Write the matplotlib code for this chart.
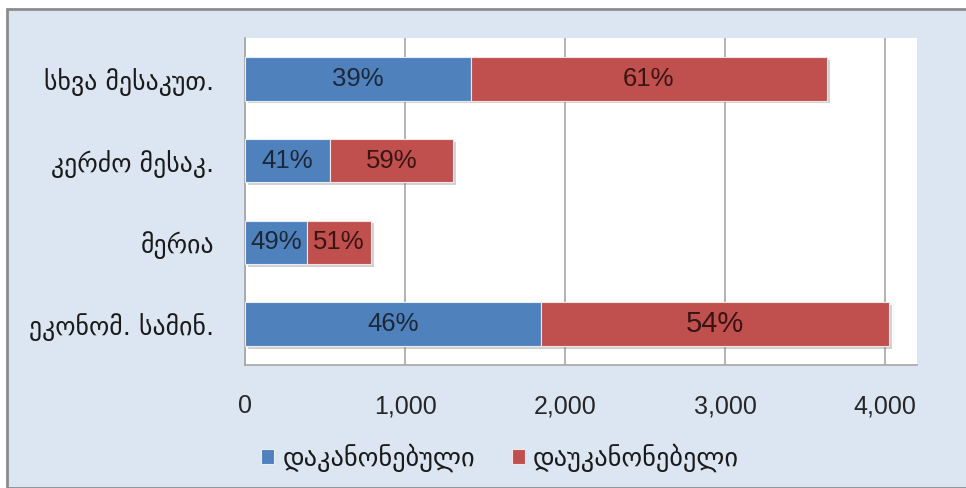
#!/usr/bin/env python3
import matplotlib
matplotlib.use('Agg')
import matplotlib.pyplot as plt
import matplotlib.patheffects as pe
from matplotlib.patches import Rectangle
from matplotlib.ticker import FuncFormatter

# data (bottom to top)
categories = ['ეკონომ. სამინ.', 'მერია', 'კერძო მესაკ.', 'სხვა მესაკუთ.']
legalized = [1850, 385, 530, 1410]
not_legalized = [2175, 405, 770, 2230]
series_names = ['დაკანონებული', 'დაუკანონებელი']
x_ticks = [0, 1000, 2000, 3000, 4000]

blue = '#4f81bd'
red = '#c0504d'
bg = '#dce6f2'
num_font = ['Liberation Sans', 'DejaVu Sans']
geo_font = ['DejaVu Sans']

plt.rcParams['font.family'] = num_font

fig = plt.figure(figsize=(9.66, 4.88), dpi=100)
fig.patch.set_facecolor('white')
# chart frame
fig.patches.append(Rectangle((7 / 966, 0), 1.0, 1 - 9 / 488, transform=fig.transFigure,
                             facecolor=bg, edgecolor='#8c8c8c', linewidth=2.0, zorder=-5))

ax = fig.add_axes([245 / 966, 1 - 365 / 488, 672 / 966, 327 / 488])
ax.set_zorder(2)
ax.set_facecolor('white')

shadow = [pe.SimplePatchShadow(offset=(2, -2), shadow_rgbFace='#7f7f7f', alpha=0.35), pe.Normal()]
y = range(len(categories))
b1 = ax.barh(y, legalized, height=0.53, color=blue, edgecolor='#e8eef6', linewidth=0.8,
             label=series_names[0], zorder=3)
b2 = ax.barh(y, not_legalized, left=legalized, height=0.53, color=red, edgecolor='#f4e4e4',
             linewidth=0.8, label=series_names[1], zorder=3)
for bar in list(b1) + list(b2):
    bar.set_path_effects(shadow)

for i in y:
    tot = legalized[i] + not_legalized[i]
    p1 = round(100 * legalized[i] / tot)
    p2 = 100 - p1
    ax.text(legalized[i] / 2, i, f'{p1}%', ha='center', va='center', fontsize=18.5,
            color='#1c2838', zorder=5)
    ax.text(legalized[i] + not_legalized[i] / 2, i, f'{p2}%', ha='center', va='center',
            fontsize=21 if i == 0 else 18.5, color='#3a1414', zorder=5)

ax.set_xlim(0, 4200)
ax.set_ylim(-0.5, len(categories) - 0.5)
ax.set_xticks(x_ticks)
ax.xaxis.set_major_formatter(FuncFormatter(lambda v, p: f'{int(v):,}'))
ax.set_yticks(list(y))
ax.set_yticklabels(categories, fontsize=18.5, color='#1a1a1a', family=geo_font)
ax.tick_params(axis='x', labelsize=18, labelcolor='#262626', length=0, pad=21)
ax.tick_params(axis='y', length=0, pad=22)
ax.grid(axis='x', color='#a6a6a6', linewidth=1.2, zorder=0)
ax.set_axisbelow(True)
for s in ['top', 'right']:
    ax.spines[s].set_visible(False)
ax.spines['left'].set_color('#a6a6a6')
ax.spines['bottom'].set_color('#a6a6a6')
ax.spines['left'].set_linewidth(1.2)
ax.spines['bottom'].set_linewidth(1.2)

leg = fig.legend(handles=[b1, b2], labels=series_names, loc='center',
                 bbox_to_anchor=(500 / 966, 1 - 458 / 488), ncol=2, frameon=False,
                 prop={'family': geo_font, 'size': 19}, handlelength=0.5,
                 handleheight=0.5, handletextpad=0.3, columnspacing=1.4)
for h in leg.legend_handles:
    h.set_path_effects([])
for t in leg.get_texts():
    t.set_color('#1a1a1a')

fig.savefig('out.png', dpi=100, facecolor=fig.get_facecolor())
